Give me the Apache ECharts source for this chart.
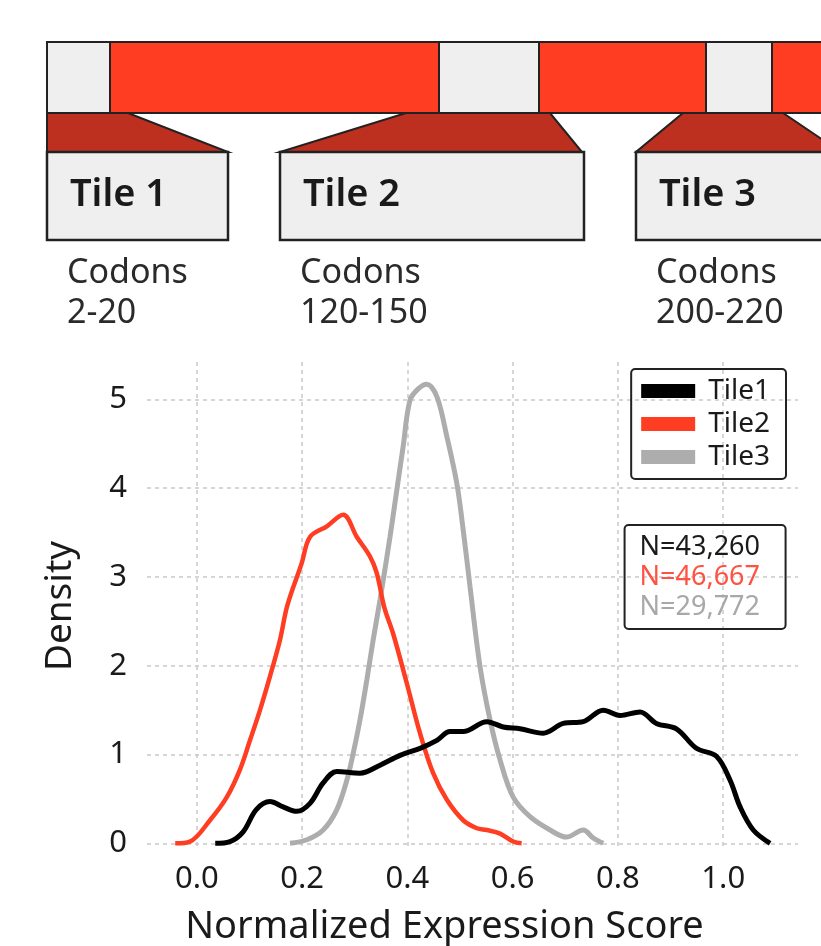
<!DOCTYPE html>
<html>
<head>
<meta charset="utf-8">
<script src="https://cdn.jsdelivr.net/npm/echarts@6/dist/echarts.min.js"></script>
<style>
  html, body { margin: 0; padding: 0; background: #fff; }
  #chart { width: 821px; height: 946px; }
</style>
</head>
<body>
<div id="chart"></div>
<script>
// --- data ---
const seriesNames = ["Tile1", "Tile2", "Tile3"];
const sampleSizes = ["N=43,260", "N=46,667", "N=29,772"];
const tileLabels = ["Tile 1", "Tile 2", "Tile 3"];
const codonRanges = ["2-20", "120-150", "200-220"];
const xTicks = [0, 0.2, 0.4, 0.6, 0.8, 1.0];
const yTicks = [0, 1, 2, 3, 4, 5];

// density curves as [score, density]
const tile1 = [
  [0.035, 0], [0.063, 0.02], [0.088, 0.13], [0.113, 0.38], [0.139, 0.47], [0.164, 0.41],
  [0.19, 0.36], [0.215, 0.45], [0.24, 0.68], [0.266, 0.81], [0.31, 0.79], [0.348, 0.88],
  [0.386, 0.99], [0.424, 1.07], [0.456, 1.16], [0.481, 1.26], [0.506, 1.26], [0.551, 1.37],
  [0.582, 1.31], [0.614, 1.29], [0.658, 1.24], [0.696, 1.35], [0.734, 1.37], [0.772, 1.5],
  [0.804, 1.44], [0.842, 1.48], [0.873, 1.35], [0.911, 1.29], [0.949, 1.07], [0.987, 0.98],
  [1.013, 0.71], [1.032, 0.41], [1.057, 0.15], [1.089, 0]
];
const tile2 = [
  [-0.041, 0], [-0.013, 0.02], [0.025, 0.26], [0.057, 0.52], [0.082, 0.83], [0.101, 1.16],
  [0.12, 1.5], [0.139, 1.88], [0.158, 2.29], [0.172, 2.68], [0.199, 3.15], [0.215, 3.45],
  [0.247, 3.57], [0.278, 3.7], [0.304, 3.45], [0.329, 3.23], [0.342, 3.04], [0.356, 2.66],
  [0.373, 2.36], [0.399, 1.8], [0.424, 1.24], [0.449, 0.79], [0.475, 0.49], [0.506, 0.26],
  [0.532, 0.17], [0.551, 0.15], [0.576, 0.11], [0.601, 0.02], [0.617, 0]
];
const tile3 = [
  [0.177, 0], [0.209, 0.04], [0.24, 0.15], [0.266, 0.38], [0.285, 0.71], [0.297, 1.01],
  [0.31, 1.39], [0.323, 1.84], [0.335, 2.29], [0.348, 2.74], [0.367, 3.45], [0.379, 3.94],
  [0.392, 4.47], [0.405, 4.99], [0.421, 5.12], [0.437, 5.17], [0.456, 5.03], [0.475, 4.58],
  [0.494, 4.05], [0.506, 3.53], [0.519, 2.89], [0.538, 1.99], [0.557, 1.39], [0.576, 0.94],
  [0.601, 0.52], [0.633, 0.3], [0.671, 0.15], [0.702, 0.07], [0.734, 0.15], [0.753, 0.06],
  [0.772, 0]
];

// --- styles ---
const FONT = '"Noto Sans", sans-serif';
const RED = "#ff3d22";
const DARK_RED = "#bd2f1e";
const LIGHT = "#efefef";
const INK = "#222";
const lineColors = ["#000000", RED, "#adadad"];
const nColors = ["#1a1a1a", "#ff5242", "#a8a8a8"];

// schematic layout (pixels) for the tiling diagram above the chart
const barTop = 42, barBottom = 113, boxTop = 152, boxBottom = 240;
const barSegments = [[47, 110, LIGHT], [110, 439, RED], [439, 539, LIGHT], [539, 706, RED], [706, 772, LIGHT], [772, 840, RED]];
const funnels = [
  [[47, 113], [128, 113], [228, 152], [47, 152]],
  [[406, 113], [550, 113], [582, 152], [280, 152]],
  [[683, 113], [783, 113], [860, 165], [636, 152]]
];
const boxes = [[47, 228], [280, 584], [636, 840]];

const diagram = [];
funnels.forEach((pts) => {
  diagram.push({ type: "polygon", shape: { points: pts }, style: { fill: DARK_RED, stroke: INK, lineWidth: 2 }, z: 1 });
});
barSegments.forEach(([x0, x1, c]) => {
  diagram.push({ type: "rect", shape: { x: x0, y: barTop, width: x1 - x0, height: barBottom - barTop }, style: { fill: c, stroke: INK, lineWidth: 2 }, z: 2 });
});
boxes.forEach(([x0, x1], i) => {
  diagram.push({ type: "rect", shape: { x: x0, y: boxTop, width: x1 - x0, height: boxBottom - boxTop }, style: { fill: LIGHT, stroke: INK, lineWidth: 2.5 }, z: 3 });
  diagram.push({ type: "text", x: x0 + 23, y: 195, style: { text: tileLabels[i], font: "600 38px " + FONT, fill: "#1a1a1a", textVerticalAlign: "middle" }, z: 4 });
  diagram.push({ type: "text", x: x0 + 20, y: 273, style: { text: "Codons", font: "400 34px " + FONT, fill: "#2a2a2a", textVerticalAlign: "middle" }, z: 4 });
  diagram.push({ type: "text", x: x0 + 20, y: 313, style: { text: codonRanges[i], font: "400 34px " + FONT, fill: "#2a2a2a", textVerticalAlign: "middle" }, z: 4 });
});

const splitStyle = { show: true, lineStyle: { color: "#c9c9c9", width: 1.5, type: [4, 4] } };

const chart = echarts.init(document.getElementById("chart"), null, { renderer: "canvas" });
chart.setOption({
  animation: false,
  backgroundColor: "#fff",
  textStyle: { fontFamily: FONT },
  grid: { left: 147, right: 23, top: 362, bottom: 96, outerBoundsMode: "none", containLabel: false },
  title: {
    right: 35,
    top: 523,
    padding: [9, 26, 9, 15],
    borderColor: INK,
    borderWidth: 2,
    borderRadius: 4,
    text: sampleSizes.map((s, i) => `{n${i}|${s}}`).join("\n"),
    textStyle: {
      rich: Object.fromEntries(nColors.map((c, i) => [`n${i}`, { color: c, fontSize: 27, fontWeight: "normal", lineHeight: 30, fontFamily: FONT }]))
    }
  },
  legend: {
    orient: "vertical",
    right: 35,
    top: 369,
    icon: "rect",
    itemWidth: 54,
    itemHeight: 14,
    itemGap: 5,
    padding: [8, 16, 8, 10],
    borderColor: INK,
    borderWidth: 2,
    borderRadius: 4,
    textStyle: { fontSize: 28, color: "#1a1a1a", lineHeight: 27, padding: [0, 0, 0, 8] },
    data: seriesNames
  },
  xAxis: {
    type: "value",
    min: -0.0946,
    max: 1.142,
    name: "Normalized Expression Score",
    nameLocation: "middle",
    nameGap: 58,
    nameTextStyle: { fontSize: 38, color: "#1a1a1a", padding: [0, 56, 0, 0] },
    axisLine: { show: false },
    axisTick: { show: false, customValues: xTicks },
    axisLabel: { customValues: xTicks, fontSize: 31, color: "#1a1a1a", margin: 14, formatter: (v) => v.toFixed(1) },
    splitLine: splitStyle
  },
  yAxis: {
    type: "value",
    min: -0.075,
    max: 5.42,
    name: "Density",
    nameLocation: "middle",
    nameGap: 68,
    nameTextStyle: { fontSize: 37, color: "#1a1a1a" },
    axisLine: { show: false },
    axisTick: { show: false, customValues: yTicks },
    axisLabel: { customValues: yTicks, fontSize: 31, color: "#1a1a1a", margin: 20 },
    splitLine: splitStyle
  },
  series: [tile1, tile2, tile3].map((d, i) => ({
    name: seriesNames[i],
    type: "line",
    data: d,
    smooth: 0.35,
    showSymbol: false,
    lineStyle: { color: lineColors[i], width: i === 1 ? 4.5 : 5 },
    itemStyle: { color: lineColors[i] },
    z: 3 - i
  })),
  graphic: diagram
});
</script>
</body>
</html>
